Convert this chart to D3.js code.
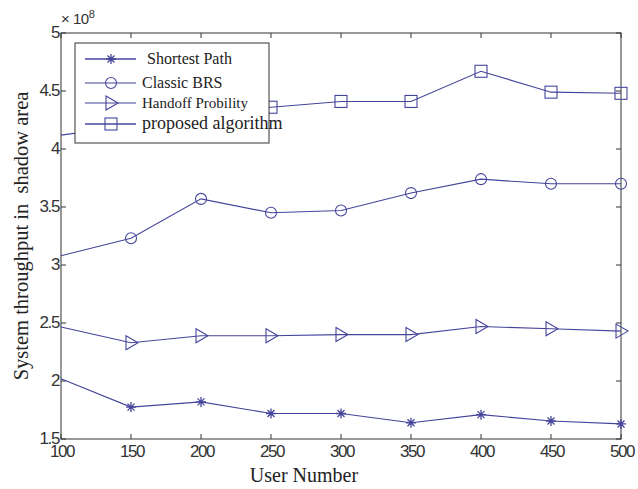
<!DOCTYPE html>
<html>
<head>
<meta charset="utf-8">
<script src="https://cdn.jsdelivr.net/npm/d3@7"></script>
<style>
  body { margin: 0; background: #fff; }
  svg text.tick-lbl { font-family: "Liberation Sans", Arial, sans-serif; font-size: 17px; fill: #333; letter-spacing: -1.4px; }
  svg text.serif { font-family: "Liberation Serif", "Times New Roman", serif; fill: #222; }
</style>
</head>
<body>
<svg id="chart" width="638" height="489"></svg>
<script>
const users = [100, 150, 200, 250, 300, 350, 400, 450, 500];
const shortestPath = [2.02, 1.775, 1.82, 1.72, 1.72, 1.64, 1.71, 1.655, 1.63];
const classicBRS = [3.08, 3.23, 3.57, 3.45, 3.47, 3.62, 3.74, 3.70, 3.70];
const handoffProb = [2.465, 2.33, 2.39, 2.39, 2.40, 2.40, 2.47, 2.45, 2.43];
const proposed = [4.12, 4.20, 4.32, 4.36, 4.41, 4.41, 4.67, 4.49, 4.48];
const xTicks = [100, 150, 200, 250, 300, 350, 400, 450, 500];
const yTicks = [1.5, 2, 2.5, 3, 3.5, 4, 4.5, 5];
const seriesNames = ["Shortest Path", "Classic BRS", "Handoff Probility", "proposed algorithm"];

const series = [
  { name: seriesNames[0], values: shortestPath, marker: "star" },
  { name: seriesNames[1], values: classicBRS, marker: "circle" },
  { name: seriesNames[2], values: handoffProb, marker: "triangle" },
  { name: seriesNames[3], values: proposed, marker: "square" }
];

const LINE = "#45459c";
const M = { left: 61, right: 621, top: 33, bottom: 439 };
const svg = d3.select("#chart");
const x = d3.scaleLinear().domain([100, 500]).range([M.left, M.right]);
const y = d3.scaleLinear().domain([1.5, 5]).range([M.bottom, M.top]);

// frame
svg.append("rect").attr("x", M.left).attr("y", M.top)
  .attr("width", M.right - M.left).attr("height", M.bottom - M.top)
  .attr("fill", "none").attr("stroke", "#333").attr("stroke-width", 1);

// ticks (inside, all four sides)
const tk = 5;
const gT = svg.append("g").attr("stroke", "#333").attr("stroke-width", 1);
xTicks.forEach(v => {
  gT.append("line").attr("x1", x(v)).attr("x2", x(v)).attr("y1", M.bottom).attr("y2", M.bottom - tk);
  gT.append("line").attr("x1", x(v)).attr("x2", x(v)).attr("y1", M.top).attr("y2", M.top + tk);
});
yTicks.forEach(v => {
  gT.append("line").attr("x1", M.left).attr("x2", M.left + tk).attr("y1", y(v)).attr("y2", y(v));
  gT.append("line").attr("x1", M.right).attr("x2", M.right - tk).attr("y1", y(v)).attr("y2", y(v));
});

svg.append("g").selectAll("text").data(xTicks).join("text")
  .attr("class", "tick-lbl").attr("x", d => x(d) + 1).attr("y", 457)
  .attr("text-anchor", "middle").text(d => d);
svg.append("g").selectAll("text").data(yTicks).join("text")
  .attr("class", "tick-lbl").attr("x", 59).attr("y", d => y(d) + 5)
  .attr("text-anchor", "end").text(d => d);

// exponent
const ex = svg.append("text").attr("class", "tick-lbl").attr("x", 61).attr("y", 24)
  .style("letter-spacing", "-0.5px").style("font-size", "15px");
ex.append("tspan").text("× 10");
ex.append("tspan").attr("dy", -6).style("font-size", "11px").text("8");

// axis labels
svg.append("text").attr("class", "serif").attr("x", 304).attr("y", 482)
  .attr("text-anchor", "middle").style("font-size", "20px").text("User Number");
svg.append("text").attr("class", "serif")
  .attr("transform", `translate(28,236) rotate(-90)`)
  .attr("text-anchor", "middle").style("font-size", "20.5px").attr("xml:space", "preserve")
  .text("System throughput in  shadow area");

// markers
function drawMarker(g, type, cx, cy) {
  const s = g.append("g").attr("transform", `translate(${cx},${cy})`)
    .attr("fill", "none").attr("stroke", LINE).attr("stroke-width", 1.1);
  if (type === "circle") s.append("circle").attr("r", 5.5);
  else if (type === "square") s.append("rect").attr("x", -6).attr("y", -6).attr("width", 12).attr("height", 12);
  else if (type === "triangle") s.append("path").attr("d", "M-5,-7L7,0L-5,7Z");
  else if (type === "star") {
    s.append("path").attr("d", "M-5,0H5M0,-5V5M-3.5,-3.5L3.5,3.5M-3.5,3.5L3.5,-3.5").attr("stroke-width", 1.3);
  }
}

const line = d3.line().x((d, i) => x(users[i])).y(d => y(d));
const gS = svg.append("g");
series.forEach(s => {
  gS.append("path").datum(s.values).attr("d", line)
    .attr("fill", "none").attr("stroke", LINE).attr("stroke-width", 1.1);
  s.values.forEach((v, i) => { if (i > 0) drawMarker(gS, s.marker, x(users[i]), y(v)); });
});

// legend
const lg = svg.append("g");
lg.append("rect").attr("x", 75).attr("y", 43).attr("width", 194).attr("height", 100)
  .attr("fill", "#fff").attr("stroke", "#333").attr("stroke-width", 1);
const legY = [59, 83, 103, 124];
const legTX = [147, 142, 142, 142];
const legFS = [16, 16, 15, 18];
series.forEach((s, i) => {
  lg.append("line").attr("x1", 85).attr("x2", 136).attr("y1", legY[i]).attr("y2", legY[i])
    .attr("stroke", LINE).attr("stroke-width", i === 0 || i === 3 ? 1.6 : 1.1);
  drawMarker(lg, s.marker, 111, legY[i]);
  lg.append("text").attr("class", "serif").attr("x", legTX[i]).attr("y", legY[i] + 5)
    .style("font-size", legFS[i] + "px").text(s.name);
});
</script>
</body>
</html>
